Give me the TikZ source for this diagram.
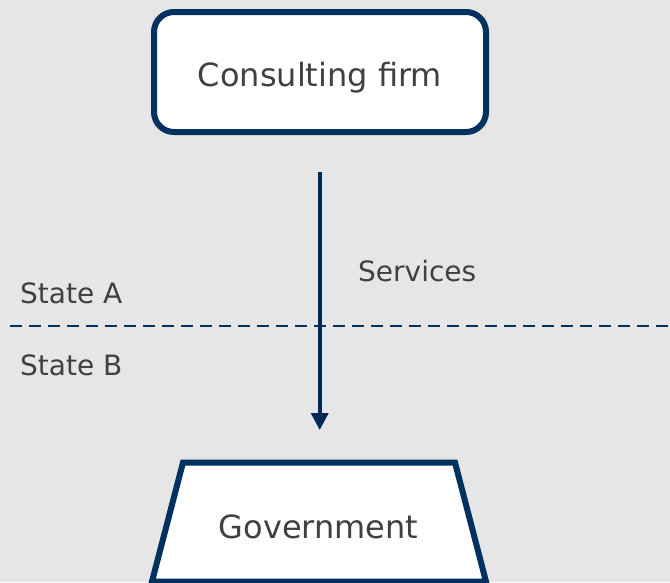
\documentclass[tikz,border=0pt]{standalone}
\usepackage{fontspec}
\setmainfont{DejaVu Sans}
\usetikzlibrary{arrows.meta}
\definecolor{navy}{HTML}{00325F}
\definecolor{arrowc}{HTML}{002A55}
\definecolor{bg}{HTML}{E6E6E6}
\definecolor{txt}{HTML}{404040}
\tikzset{
  boxtext/.style={text=txt, font=\fontsize{32}{36}\selectfont, inner sep=0pt},
  lbltext/.style={text=txt, font=\fontsize{28}{32}\selectfont, inner sep=0pt, anchor=base west},
  firmbox/.style={draw=navy, fill=white, line width=6pt, rounded corners=20pt,
    minimum width=332pt, minimum height=120pt, inner sep=0pt},
  govshape/.style={draw=navy, fill=white, line width=6pt, line join=miter},
  flow/.style={draw=arrowc, line width=3.6pt, -{Triangle[length=17pt,width=17pt]}},
  border/.style={draw=navy, line width=2.4pt, dash pattern=on 12pt off 7pt}
}
\begin{document}
\begin{tikzpicture}[x=1pt,y=-1pt]
\fill[bg] (0,0) rectangle (670,582);
\useasboundingbox (0,0) rectangle (670,582);
\node[firmbox] (firm) at (320,72) {};
\node[boxtext, anchor=base] (firmtxt) at (320,86) {Consulting firm};
\coordinate (g1) at (183,462.5);
\coordinate (g2) at (455,462.5);
\coordinate (g3) at (486,581.5);
\coordinate (g4) at (152,581.5);
\coordinate (govtop) at (319.7,462.5);
\draw[govshape] (g1) -- (g2) -- (g3) -- (g4) -- cycle;
\node[boxtext, anchor=base] (govtxt) at (318.5,538) {Government};
\coordinate (dl) at (10,326);
\coordinate (dr) at (672,326);
\draw[border] (dl) -- (dr);
\draw[flow, shorten <=37pt, shorten >=32.5pt] (firm.south -| govtop) -- (govtop);
\node[lbltext] (serv) at (358,281) {Services};
\node[lbltext] (sa) at (20,303) {State A};
\node[lbltext] (sb) at (20,375) {State B};
\end{tikzpicture}
\end{document}
